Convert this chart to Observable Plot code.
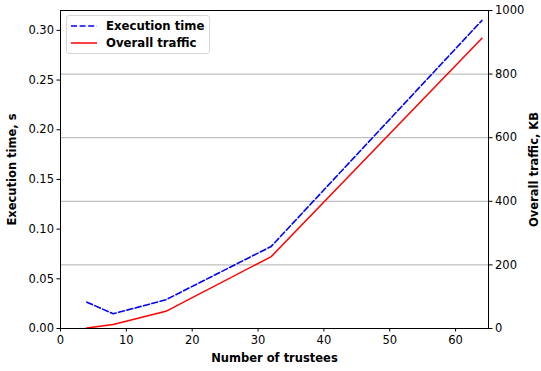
<!DOCTYPE html>
<html>
<head>
<meta charset="utf-8">
<script src="https://cdn.jsdelivr.net/npm/d3@7"></script>
<script src="https://cdn.jsdelivr.net/npm/@observablehq/plot@0.6"></script>
<style>
  body { margin: 0; background: white; }
  #wrap { position: relative; width: 541px; height: 371px; font-family: "DejaVu Sans", sans-serif; }
  #legend { position: absolute; left: 66px; top: 15px; width: 142px; height: 37px; border: 1px solid #d6d6d6; border-radius: 3px; background: rgba(255,255,255,0.8); font-weight: bold; font-size: 11.7px; }
  .item { position: absolute; left: 4px; height: 14px; display: flex; align-items: center; }
  .item svg { margin-right: 9px; }
</style>
</head>
<body>
<div id="wrap"></div>
<script>
const trustees = [4, 8, 16, 32, 64];
const execTime = [0.0265, 0.0148, 0.0289, 0.0826, 0.310];
const trafficKB = [1.5, 12.5, 54, 226, 913];
const xTicks = [0, 10, 20, 30, 40, 50, 60];
const leftTicks = [0, 0.05, 0.10, 0.15, 0.20, 0.25, 0.30];
const rightTicks = [0, 200, 400, 600, 800, 1000];
const gridKB = [200, 400, 600, 800];

const leftMax = 0.32, rightMax = 1000;
const toLeft = kb => kb * leftMax / rightMax;

const execData = trustees.map((t, i) => ({x: t, y: execTime[i]}));
const trafData = trustees.map((t, i) => ({x: t, kb: trafficKB[i]}));

const dash = "6,2.6";

const chart = Plot.plot({
  width: 541,
  height: 371,
  marginLeft: 60,
  marginRight: 53,
  marginTop: 10,
  marginBottom: 43,
  style: {fontFamily: "DejaVu Sans", fontSize: "11.5px", color: "#000", background: "white"},
  x: {domain: [0, 65]},
  y: {domain: [0, leftMax]},
  marks: [
    Plot.ruleY(gridKB, {y: d => toLeft(d), stroke: "#b0b0b0", strokeWidth: 1, strokeOpacity: 1}),
    Plot.line(trafData, {x: "x", y: d => toLeft(d.kb), stroke: "red", strokeWidth: 1.5}),
    Plot.line(execData, {x: "x", y: "y", stroke: "blue", strokeWidth: 1.6, strokeDasharray: dash}),
    Plot.frame({stroke: "black", strokeWidth: 1}),
    Plot.axisX({ticks: xTicks, tickSize: 3.5, tickPadding: 3.5, tickFormat: d3.format("d"), label: "Number of trustees", labelAnchor: "center", labelArrow: "none", labelOffset: 33}),
    Plot.axisY({anchor: "left", ticks: leftTicks, tickSize: 3.5, tickPadding: 3, tickFormat: d3.format(".2f"), label: "Execution time, s", labelAnchor: "center", labelArrow: "none", labelOffset: 53}),
    Plot.axisY({anchor: "right", ticks: rightTicks.map(toLeft), tickSize: 3.5, tickPadding: 3, tickFormat: (d, i) => String(rightTicks[i]), label: "Overall traffic, KB", labelAnchor: "center", labelArrow: "none", labelOffset: 49})
  ]
});

d3.select(chart).selectAll("[aria-label='x-axis label'] text, [aria-label='y-axis label'] text").style("font-weight", "bold");

const wrap = document.getElementById("wrap");
wrap.appendChild(chart);

const legend = document.createElement("div");
legend.id = "legend";
legend.innerHTML = `
  <div class="item" style="top:3px"><svg width="26" height="4"><line x1="0" y1="2" x2="26" y2="2" stroke="blue" stroke-width="1.6" stroke-dasharray="${dash}"/></svg>Execution time</div>
  <div class="item" style="top:20px"><svg width="26" height="4"><line x1="0" y1="2" x2="26" y2="2" stroke="red" stroke-width="1.5"/></svg>Overall traffic</div>`;
wrap.appendChild(legend);
</script>
</body>
</html>
